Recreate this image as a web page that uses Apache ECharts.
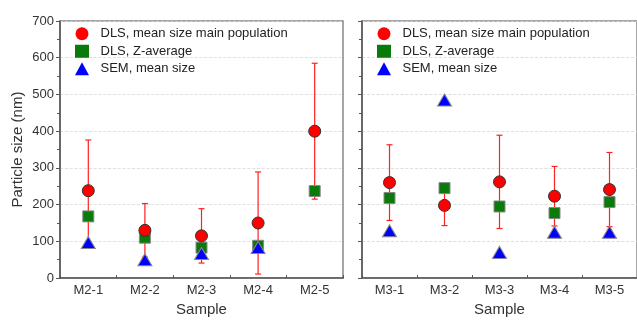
<!DOCTYPE html>
<html>
<head>
<meta charset="utf-8">
<script src="https://cdn.jsdelivr.net/npm/echarts@6/dist/echarts.min.js"></script>
<style>html,body{margin:0;padding:0;background:#fff}#c{width:637px;height:322px}</style>
</head>
<body>
<div id="c"></div>
<script>
const catsM2 = ['M2-1','M2-2','M2-3','M2-4','M2-5'];
const catsM3 = ['M3-1','M3-2','M3-3','M3-4','M3-5'];
const yTicks = [0,100,200,300,400,500,600,700];

const m2Mean = [238, 130, 115, 150, 400];
const m2Err  = [138, 73, 74, 139, 185];
const m2Z    = [168, 110, 83, 88, 237];
const m2Sem  = [97, 50, 67, 83, null];

const m3Mean = [260, 198, 262, 223, 241];
const m3Err  = [103, 55, 127, 81, 101];
const m3Z    = [218, 245, 195, 177, 207];
const m3Sem  = [129, 485, 70, 125, 125];

const names = ['DLS, mean size main population', 'DLS, Z-average', 'SEM, mean size'];
const FONT = 'Liberation Sans, Arial, sans-serif';

function errData(mean, err){ return mean.map((m,i)=>[i, m-err[i], m+err[i]]); }
function renderErr(params, api){
  const x = api.value(0);
  const lo = api.coord([x, api.value(1)]);
  const hi = api.coord([x, api.value(2)]);
  const w = 3;
  const st = {stroke:'#ff2020', lineWidth:1.2};
  return {type:'group', children:[
    {type:'line', shape:{x1:hi[0],y1:hi[1],x2:lo[0],y2:lo[1]}, style:st},
    {type:'line', shape:{x1:hi[0]-w,y1:hi[1],x2:hi[0]+w,y2:hi[1]}, style:st},
    {type:'line', shape:{x1:lo[0]-w,y1:lo[1],x2:lo[0]+w,y2:lo[1]}, style:st}
  ]};
}

function xAx(cats, gi){
  return {type:'category', data:cats, gridIndex:gi, boundaryGap:true,
    name:'Sample', nameLocation:'middle', nameGap:23,
    nameTextStyle:{fontSize:15, color:'#333', fontFamily:FONT},
    axisLine:{lineStyle:{color:'#555', width:1.5}},
    axisTick:{show:true, inside:true, length:3, lineStyle:{color:'#555'}},
    axisLabel:{fontSize:13, color:'#333', fontFamily:FONT, margin:6},
    splitLine:{show:false}};
}
function yAx(gi, showLabels){
  return {type:'value', gridIndex:gi, min:yTicks[0], max:yTicks[yTicks.length-1], interval:100,
    name: showLabels ? 'Particle size (nm)' : '', nameLocation:'middle', nameGap:35, nameRotate:90,
    nameTextStyle:{fontSize:15, color:'#333', fontFamily:FONT},
    axisLine:{show:true, lineStyle:{color:'#555', width:1.5}},
    axisTick:{show:true, inside:false, length:4, lineStyle:{color:'#555'}},
    minorTick:{show:true, splitNumber:2, length:3, lineStyle:{color:'#555'}},
    axisLabel:{show:showLabels, fontSize:13, color:'#333', fontFamily:FONT, margin:6},
    splitLine:{show:true, lineStyle:{color:'#d8d8d8', type:'dashed', width:0.8}}};
}

function panelSeries(gi, mean, err, z, sem){
  return [
    {type:'custom', xAxisIndex:gi, yAxisIndex:gi, renderItem:renderErr, data:errData(mean, err), encode:{x:0, y:[1,2]}, z:1, silent:true},
    {type:'scatter', name:names[1], xAxisIndex:gi, yAxisIndex:gi, data:z, symbol:'rect', symbolSize:11,
      itemStyle:{color:'#0a7a0a', borderColor:'#888', borderWidth:1, opacity:1}, z:2},
    {type:'scatter', name:names[2], xAxisIndex:gi, yAxisIndex:gi, data:sem, symbol:'triangle', symbolSize:[14,12],
      itemStyle:{color:'#0000ff', borderColor:'#888', borderWidth:1, opacity:1}, z:3},
    {type:'scatter', name:names[0], xAxisIndex:gi, yAxisIndex:gi, data:mean, symbol:'circle', symbolSize:12,
      itemStyle:{color:'#ff0000', borderColor:'#333', borderWidth:1, opacity:1}, z:4}
  ];
}

function leg(left){
  return {orient:'vertical', left:left, top:27, itemWidth:14, itemHeight:13, itemGap:4,
    selectedMode:false, data:names, padding:0,
    itemStyle:{borderWidth:0, opacity:1},
    formatter: n => '\u2002' + n,
    textStyle:{fontSize:13, lineHeight:13.5, color:'#222', fontFamily:FONT}};
}

const chart = echarts.init(document.getElementById('c'), null, {renderer:'canvas'});
chart.setOption({
  animation:false,
  backgroundColor:'#fff',
  grid:[
    {left:60, right:294, top:21, bottom:37, show:true, borderColor:'#888', borderWidth:1.5},
    {left:362, right:-9, top:21, bottom:37, show:true, borderColor:'#888', borderWidth:1.5}
  ],
  legend:[leg(75), leg(377)],
  xAxis:[xAx(catsM2,0), xAx(catsM3,1)],
  yAxis:[yAx(0,true), yAx(1,false)],
  series:[].concat(panelSeries(0, m2Mean, m2Err, m2Z, m2Sem), panelSeries(1, m3Mean, m3Err, m3Z, m3Sem))
});
</script>
</body>
</html>
